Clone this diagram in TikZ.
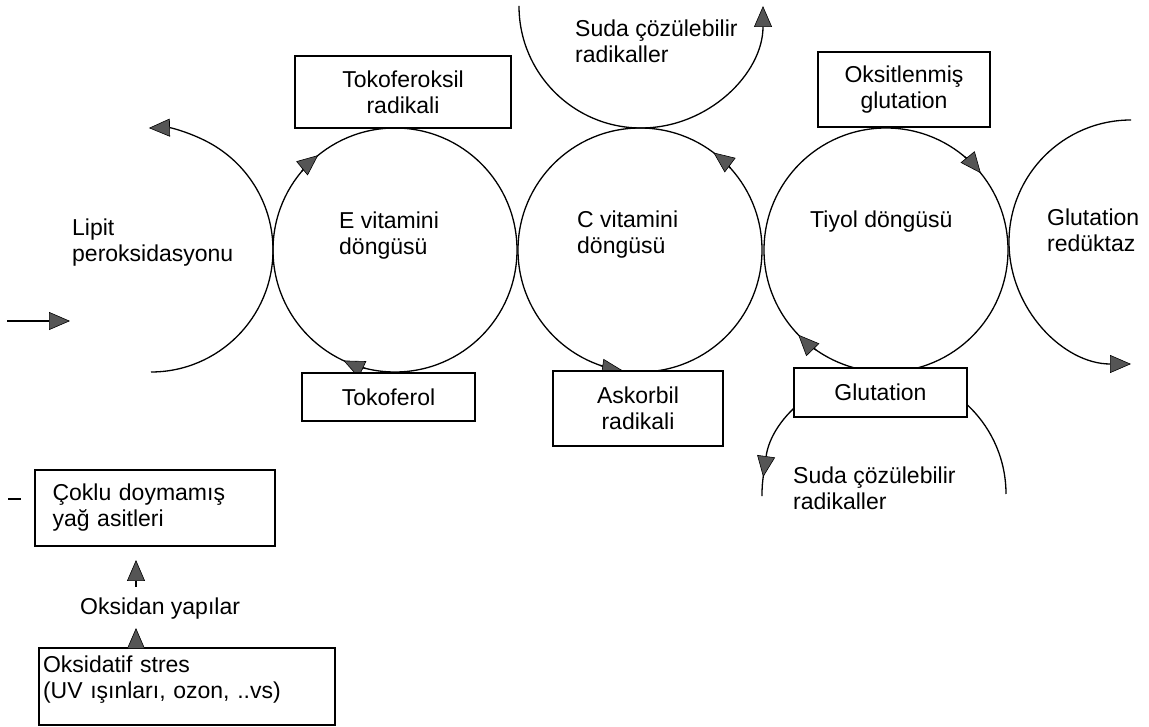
\documentclass[tikz,border=0pt]{standalone}
\usepackage{fontspec}
\setmainfont{Liberation Sans}
\usetikzlibrary{arrows.meta}
\definecolor{arrgray}{RGB}{85,85,85}
\begin{document}
\begin{tikzpicture}[x=1pt,y=1pt,
  every node/.style={font=\fontsize{23}{26}\selectfont},
  ln/.style={line width=1.3pt},
  arr/.style={ln, -{Triangle[length=21pt,width=18pt,fill=arrgray,line width=0.6pt]}},
  cyc/.style={ln, draw, circle, minimum size=244pt, inner sep=0pt},
  box/.style={ln, draw, fill=white, inner sep=0pt, align=center},
  txt/.style={inner sep=0pt, align=left, anchor=north west},
  lbl/.style={inner sep=0pt, anchor=base west}]
\useasboundingbox (0,0) rectangle (1149,726);

% cycles
\node[cyc] (E) at (395,476) {};
\node[cyc] (C) at (640,476) {};
\node[cyc] (T) at (886,476) {};
\coordinate (lipc) at (151,476);
\coordinate (gruc) at (1131,484);
\coordinate (sutc) at (641,720);
\coordinate (subc) at (884,232);

% outer arcs
\draw[arr] (lipc) ++(-90:122) arc[start angle=-90,end angle=91,radius=122];
\draw[arr] (gruc) ++(90:122) arc[start angle=90,end angle=270,radius=122];
\draw[arr] (sutc) ++(180:122) arc[start angle=180,end angle=360,radius=122];
\draw[ln] (subc) ++(170:122) arc[start angle=170,end angle=181,radius=122];
\draw[arr] (subc) ++(0:122) arc[start angle=0,end angle=172,radius=122];

% arrows on the cycles
\draw[arr] (E.center) ++(256:122) arc[start angle=256,end angle=245,radius=122];
\draw[arr] (E.center) ++(140:122) arc[start angle=140,end angle=129,radius=122];
\draw[arr] (C.center) ++(251:122) arc[start angle=251,end angle=262,radius=122];
\draw[arr] (C.center) ++(42:122) arc[start angle=42,end angle=53,radius=122];
\draw[arr] (T.center) ++(50:122) arc[start angle=50,end angle=39,radius=122];
\draw[arr] (T.center) ++(235:122) arc[start angle=235,end angle=224,radius=122];

% boxes
\node[box, minimum width=216pt, minimum height=72pt] (tkr) at (403,634) {Tokoferoksil\\radikali};
\node[box, minimum width=173pt, minimum height=48pt] (tkf) at (388.5,329) {Tokoferol};
\node[box, minimum width=170pt, minimum height=75pt] (ask) at (638,317.5) {Askorbil\\radikali};
\node[box, minimum width=172pt, minimum height=75pt] (oxg) at (904,636.5) {Oksitlenmiş\\glutation};
\node[box, minimum width=173pt, minimum height=49pt] (glu) at (880.5,333.5) {Glutation};
\node[box, text width=205pt, inner xsep=17.5pt, minimum height=76pt, align=left] (cok) at (155,218) {Çoklu doymamış\\yağ asitleri};
\node[box, text width=288pt, inner xsep=4pt, minimum height=77pt, align=left] (oks) at (187,39.5) {Oksidatif stres\\(UV ışınları, ozon, ..vs)\rule[-18pt]{0pt}{18pt}};

% free texts
\node[txt] (lip) at (72,509.2) {\strut Lipit\\peroksidasyonu};
\node[txt] (ev) at (339,516.2) {\strut E vitamini\\döngüsü};
\node[txt] (cv) at (577,517.2) {\strut C vitamini\\döngüsü};
\node[lbl] (ty) at (810,498) {Tiyol döngüsü};
\node[txt] (gr) at (1047,519.2) {\strut Glutation\\redüktaz};
\node[txt] (st) at (575,708.2) {\strut Suda çözülebilir\\radikaller};
\node[txt] (sb) at (793,261.2) {\strut Suda çözülebilir\\radikaller};
\node[lbl] (oy) at (80,111) {Oksidan yapılar};

% straight arrows
\coordinate (la) at (7,405);
\coordinate (lb) at (70,405);
\draw[arr] (la) -- (lb);
\coordinate (o1) at (136,139);
\coordinate (o2) at (136,166);
\draw[arr] (o1) -- (o2);
\coordinate (s2) at (136,98);
\draw[arr] (oks.north -| s2) -- (s2);

% stray dash
\coordinate (d1) at (8,227);
\coordinate (d2) at (21,227);
\draw[ln] (d1) -- (d2);
\end{tikzpicture}
\end{document}
